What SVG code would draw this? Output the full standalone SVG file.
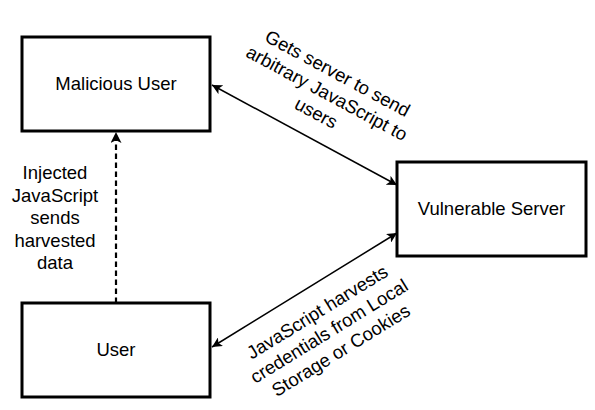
<svg xmlns="http://www.w3.org/2000/svg" width="595" height="410" viewBox="0 0 595 410">
<style>
.box{fill:#fff;stroke:#000;stroke-width:3}
.t{font-family:"Liberation Sans",Arial,sans-serif;font-size:18.5px;fill:#000;text-anchor:middle}
.c{fill:none;stroke:#000;stroke-width:1.5}
.d{fill:none;stroke:#000;stroke-width:2.2;stroke-dasharray:5.5 3.5}
</style>
<defs>
<marker id="ah" viewBox="0 0 10 10" refX="10" refY="5" markerWidth="10" markerHeight="10" markerUnits="userSpaceOnUse" orient="auto-start-reverse">
<path d="M0,0 L10,5 L0,10 L2.5,5 Z" fill="#000"/>
</marker>
<marker id="ah2" viewBox="0 0 10 10" refX="10" refY="5" markerWidth="5" markerHeight="5" orient="auto">
<path d="M0,0 L10,5 L0,10 L2.5,5 Z" fill="#000"/>
</marker>
</defs>
<rect width="595" height="410" fill="#fff"/>
<g id="connectors">
<line class="c" x1="212" y1="85" x2="397" y2="185" marker-start="url(#ah)" marker-end="url(#ah)"/>
<line class="c" x1="212" y1="347" x2="397" y2="233" marker-start="url(#ah)" marker-end="url(#ah)"/>
<line class="d" x1="116" y1="303" x2="116" y2="132" marker-end="url(#ah2)"/>
<text class="t" transform="translate(327,93) rotate(28.4)"><tspan x="0" y="-16">Gets server to send</tspan><tspan x="0" y="6.5">arbitrary JavaScript to</tspan><tspan x="0" y="29">users</tspan></text>
<text class="t" transform="translate(329,331) rotate(-31.6)"><tspan x="0" y="-16">JavaScript harvests</tspan><tspan x="0" y="6.5">credentials from Local</tspan><tspan x="0" y="29">Storage or Cookies</tspan></text>
<text class="t"><tspan x="55" y="179">Injected</tspan><tspan x="55" y="201.5">JavaScript</tspan><tspan x="55" y="224">sends</tspan><tspan x="55" y="246.5">harvested</tspan><tspan x="55" y="269">data</tspan></text>
</g>
<g id="malicious-user">
<rect class="box" x="22" y="37" width="188" height="94"/>
<text class="t" x="116" y="90">Malicious User</text>
</g>
<g id="vulnerable-server">
<rect class="box" x="397" y="162" width="189" height="94"/>
<text class="t" x="491.5" y="215">Vulnerable Server</text>
</g>
<g id="user">
<rect class="box" x="22" y="303" width="188" height="94"/>
<text class="t" x="116" y="356">User</text>
</g>
</svg>
